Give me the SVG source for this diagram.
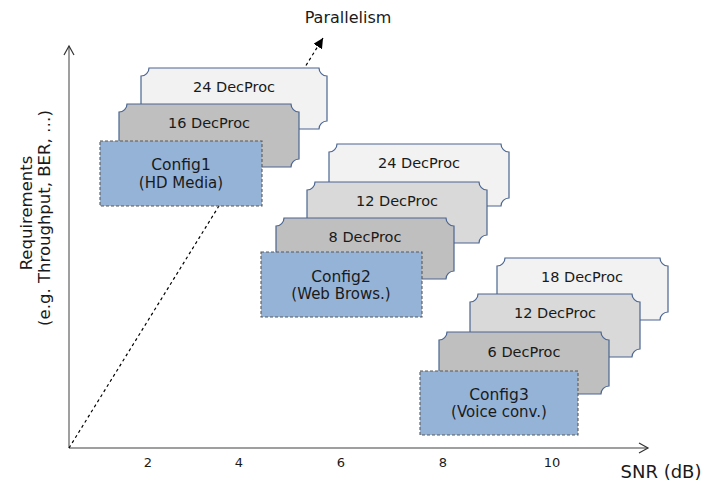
<svg xmlns="http://www.w3.org/2000/svg" width="705" height="487" viewBox="0 0 705 487">
<defs>
<style>
text{font-family:"DejaVu Sans","Verdana",sans-serif;fill:#1a1a1a;}
.dp{stroke:#4A6591;stroke-width:1.2;}
.l1{fill:#F2F2F2;}
.l2{fill:#D9D9D9;}
.l3{fill:#BFBFBF;}
.cfg{fill:#95B3D7;stroke:#595959;stroke-width:1.1;stroke-dasharray:3 2;}
.lbl{font-size:14.5px;text-anchor:middle;}
.ct{font-size:15.5px;text-anchor:middle;}
.cs{font-size:15px;text-anchor:middle;}
.tick{font-size:13px;text-anchor:middle;}
.axis{stroke:#7F7F7F;stroke-width:1.5;fill:none;}
</style>
<marker id="open" markerWidth="12" markerHeight="12" refX="10" refY="6" orient="auto" markerUnits="userSpaceOnUse">
<path d="M1,1 L10,6 L1,11" fill="none" stroke="#333" stroke-width="1.2"/>
</marker>
<marker id="solid" markerWidth="12" markerHeight="12" refX="10" refY="5" orient="auto" markerUnits="userSpaceOnUse">
<path d="M0,0 L10,5 L0,10 Z" fill="#000"/>
</marker>
</defs>

<g id="connectors">
<line class="axis" x1="69" y1="448" x2="69" y2="46" marker-end="url(#open)"/>
<line class="axis" x1="69" y1="448" x2="648" y2="448" marker-end="url(#open)"/>
<line x1="69" y1="448" x2="323" y2="38" stroke="#000" stroke-width="1.2" stroke-dasharray="3 3" marker-end="url(#solid)"/>
</g>

<g id="labels">
<text x="348" y="23" font-size="16" text-anchor="middle">Parallelism</text>
<text x="661" y="478" font-size="18" text-anchor="middle">SNR (dB)</text>
<text transform="translate(32,213) rotate(-90)" font-size="16.5" text-anchor="middle">Requirements</text>
<text transform="translate(50,218) rotate(-90)" font-size="16.5" text-anchor="middle">(e.g. Throughput, BER, …)</text>
<text class="tick" x="148" y="467">2</text>
<text class="tick" x="239" y="467">4</text>
<text class="tick" x="341" y="467">6</text>
<text class="tick" x="443" y="467">8</text>
<text class="tick" x="552" y="467">10</text>
</g>

<g id="g1-24">
<path class="dp l1" d="M149,68 H319 A8,8 0 0 0 327,76 V121 A8,8 0 0 0 319,129 H149 A8,8 0 0 0 141,121 V76 A8,8 0 0 0 149,68 Z"/>
<text class="lbl" x="234" y="92">24 DecProc</text>
</g>
<g id="g1-16">
<path class="dp l3" d="M127,104 H291 A8,8 0 0 0 299,112 V159 A8,8 0 0 0 291,167 H127 A8,8 0 0 0 119,159 V112 A8,8 0 0 0 127,104 Z"/>
<text class="lbl" x="209" y="128">16 DecProc</text>
</g>
<g id="config1">
<rect class="cfg" x="100" y="141" width="162" height="65"/>
<text class="ct" x="181" y="170">Config1</text>
<text class="cs" x="181" y="188">(HD Media)</text>
</g>

<g id="g2-24">
<path class="dp l1" d="M337,144 H501 A8,8 0 0 0 509,152 V198 A8,8 0 0 0 501,206 H337 A8,8 0 0 0 329,198 V152 A8,8 0 0 0 337,144 Z"/>
<text class="lbl" x="419" y="168">24 DecProc</text>
</g>
<g id="g2-12">
<path class="dp l2" d="M315,182 H479 A8,8 0 0 0 487,190 V235 A8,8 0 0 0 479,243 H315 A8,8 0 0 0 307,235 V190 A8,8 0 0 0 315,182 Z"/>
<text class="lbl" x="397" y="206">12 DecProc</text>
</g>
<g id="g2-8">
<path class="dp l3" d="M284,218 H446 A8,8 0 0 0 454,226 V271 A8,8 0 0 0 446,279 H284 A8,8 0 0 0 276,271 V226 A8,8 0 0 0 284,218 Z"/>
<text class="lbl" x="365" y="242">8 DecProc</text>
</g>
<g id="config2">
<rect class="cfg" x="261" y="252" width="161" height="65"/>
<text class="ct" x="341" y="282">Config2</text>
<text class="cs" x="341" y="299">(Web Brows.)</text>
</g>

<g id="g3-18">
<path class="dp l1" d="M505,258 H660 A8,8 0 0 0 668,266 V312 A8,8 0 0 0 660,320 H505 A8,8 0 0 0 497,312 V266 A8,8 0 0 0 505,258 Z"/>
<text class="lbl" x="582" y="282">18 DecProc</text>
</g>
<g id="g3-12">
<path class="dp l2" d="M478,294 H632 A8,8 0 0 0 640,302 V349 A8,8 0 0 0 632,357 H478 A8,8 0 0 0 470,349 V302 A8,8 0 0 0 478,294 Z"/>
<text class="lbl" x="555" y="318">12 DecProc</text>
</g>
<g id="g3-6">
<path class="dp l3" d="M447,332 H601 A8,8 0 0 0 609,340 V386 A8,8 0 0 0 601,394 H447 A8,8 0 0 0 439,386 V340 A8,8 0 0 0 447,332 Z"/>
<text class="lbl" x="524" y="357">6 DecProc</text>
</g>
<g id="config3">
<rect class="cfg" x="420" y="371" width="158" height="64"/>
<text class="ct" x="499" y="400">Config3</text>
<text class="cs" x="499" y="417">(Voice conv.)</text>
</g>
</svg>
